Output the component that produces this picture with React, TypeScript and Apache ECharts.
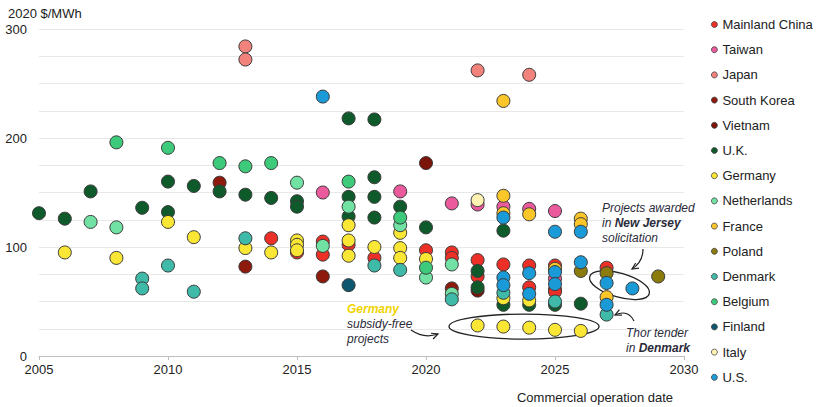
import React, { useEffect, useRef } from 'react';
import * as echarts from 'echarts';

const countryNames = [
  'Mainland China', 'Taiwan', 'Japan', 'South Korea', 'Vietnam', 'U.K.', 'Germany',
  'Netherlands', 'France', 'Poland', 'Denmark', 'Belgium', 'Finland', 'Italy', 'U.S.',
];
const countryColors = [
  '#ec3027', '#ea5a9c', '#f2837c', '#8e1a0d', '#7c1509', '#0f5a2b', '#fae634',
  '#72e2a4', '#fbc62a', '#8a7b0c', '#3fbaa8', '#3dcb7b', '#0c5670', '#fff3b3', '#1b9ad8',
];

const mainlandChina = [[2014, 108], [2015, 95], [2016, 105], [2016, 93], [2017, 102], [2018, 90], [2020, 97], [2021, 95], [2021, 90], [2022, 88], [2022, 73], [2023, 84], [2024, 83], [2024, 63], [2025, 83], [2025, 61], [2025, 59], [2027, 81]];
const taiwan = [[2016, 150], [2019, 151], [2021, 140], [2022, 139], [2023, 137], [2024, 135], [2025, 133], [2025, 71]];
const japan = [[2013, 284], [2013, 272], [2022, 262], [2024, 258]];
const southKorea = [[2012, 159], [2013, 82], [2016, 73], [2021, 62]];
const vietnam = [[2020, 177], [2022, 60]];
const uk = [[2005, 131], [2006, 126], [2007, 151], [2009, 136], [2010, 160], [2010, 132], [2011, 156], [2012, 151], [2013, 148], [2014, 145], [2015, 142], [2015, 137], [2017, 218], [2017, 146], [2017, 128], [2018, 217], [2018, 164], [2018, 146], [2018, 127], [2019, 137], [2020, 118], [2022, 78], [2022, 63], [2023, 115], [2023, 47], [2024, 47], [2025, 47], [2026, 48]];
const germany = [[2006, 95], [2008, 90], [2010, 123], [2011, 109], [2013, 99], [2014, 95], [2015, 106], [2015, 102], [2015, 97], [2017, 120], [2017, 106], [2017, 92], [2018, 100], [2019, 113], [2019, 99], [2019, 90], [2020, 89], [2022, 28], [2023, 53], [2023, 27], [2024, 51], [2024, 26], [2025, 24], [2026, 23]];
const netherlands = [[2007, 123], [2008, 118], [2015, 159], [2016, 101], [2017, 137], [2019, 120], [2020, 72], [2021, 84], [2021, 57]];
const france = [[2023, 234], [2023, 147], [2023, 131], [2024, 130], [2025, 80], [2026, 126], [2026, 121], [2027, 54]];
const poland = [[2026, 78], [2027, 76], [2029, 73]];
const denmark = [[2009, 71], [2009, 62], [2010, 83], [2011, 59], [2013, 108], [2018, 83], [2019, 79], [2021, 52], [2023, 58], [2025, 50], [2027, 38]];
const belgium = [[2008, 196], [2010, 191], [2012, 177], [2013, 174], [2014, 177], [2017, 160], [2019, 127], [2020, 81]];
const finland = [[2017, 65]];
const italy = [[2022, 143]];
const us = [[2016, 238], [2023, 127], [2023, 72], [2023, 65], [2024, 76], [2024, 57], [2025, 114], [2025, 77], [2025, 66], [2026, 114], [2026, 86], [2027, 67], [2027, 47], [2028, 62]];

const seriesData = [mainlandChina, taiwan, japan, southKorea, vietnam, uk, germany, netherlands, france, poland, denmark, belgium, finland, italy, us];

const FONT = '"Liberation Sans", Arial, sans-serif';

function arrow(tail: number[], ctrl: number[], tip: number[]) {
  const dx = tip[0] - ctrl[0];
  const dy = tip[1] - ctrl[1];
  const ang = Math.atan2(dy, dx);
  const len = 7;
  const a1 = ang + Math.PI - 0.45;
  const a2 = ang + Math.PI + 0.45;
  return [
    {
      type: 'bezierCurve',
      shape: { x1: tail[0], y1: tail[1], cpx1: ctrl[0], cpy1: ctrl[1], x2: tip[0], y2: tip[1] },
      style: { stroke: '#222', lineWidth: 1.2, fill: 'none' },
    },
    {
      type: 'polyline',
      shape: {
        points: [
          [tip[0] + len * Math.cos(a1), tip[1] + len * Math.sin(a1)],
          tip,
          [tip[0] + len * Math.cos(a2), tip[1] + len * Math.sin(a2)],
        ],
      },
      style: { stroke: '#222', lineWidth: 1.2, fill: 'none' },
    },
  ];
}

export default function App() {
  const ref = useRef<HTMLDivElement>(null);
  useEffect(() => {
    const chart = echarts.init(ref.current!, null, { renderer: 'svg' });
    chart.setOption({
      animation: false,
      textStyle: { fontFamily: FONT },
      grid: { left: 39, right: 135, top: 29, bottom: 51 },
      legend: {
        orient: 'vertical',
        left: 706,
        top: 12,
        itemWidth: 6,
        itemHeight: 6,
        itemGap: 10.2,
        icon: 'circle',
        itemStyle: { borderWidth: 0.8, borderColor: '#444' },
        textStyle: { fontSize: 13, color: '#222', fontFamily: FONT, lineHeight: 15 },
        data: countryNames,
      },
      xAxis: {
        type: 'value',
        min: 2005,
        max: 2030,
        interval: 5,
        axisLine: { show: true, lineStyle: { color: '#bdbdbd', width: 1 } },
        axisTick: { show: true, length: 4, lineStyle: { color: '#bdbdbd' } },
        axisLabel: { fontSize: 13, color: '#222', margin: 7, formatter: (v: number) => String(v) },
        splitLine: { show: false },
      },
      yAxis: {
        type: 'value',
        min: 0,
        max: 300,
        interval: 25,
        axisLine: { show: false },
        axisTick: { show: false },
        axisLabel: {
          fontSize: 13,
          color: '#222',
          margin: 12,
          formatter: (v: number) => (v % 100 === 0 ? String(v) : ''),
        },
        splitLine: { lineStyle: { color: '#e8e8e8', width: 1 } },
      },
      series: countryNames.map((name, i) => ({
        name,
        type: 'scatter',
        symbol: 'circle',
        symbolSize: 13,
        data: seriesData[i],
        itemStyle: { color: countryColors[i], borderColor: '#3a3a3a', borderWidth: 1, opacity: 1 },
        emphasis: { disabled: true },
      })),
    });

    const p = (x: number, y: number) => chart.convertToPixel({ gridIndex: 0 }, [x, y]) as number[];
    const gerC = p(2023.8, 27);
    const njC = p(2027.5, 65);
    const italic = { fontStyle: 'italic', fontSize: 12, fontFamily: FONT, fill: '#2b2b3a' };

    chart.setOption({
      graphic: [
        { type: 'text', x: 8, y: 13, style: { text: '2020 $/MWh', fontSize: 13, fontFamily: FONT, fill: '#222', verticalAlign: 'middle' } },
        { type: 'text', x: 595, y: 397, style: { text: 'Commercial operation date', fontSize: 13, fontFamily: FONT, fill: '#222', align: 'center', verticalAlign: 'middle' } },
        { type: 'ellipse', shape: { cx: gerC[0], cy: gerC[1], rx: 75, ry: 12.5 }, style: { fill: 'none', stroke: '#222', lineWidth: 1.3 } },
        { type: 'ellipse', x: njC[0], y: njC[1], rotation: -0.28, shape: { cx: 0, cy: 0, rx: 31, ry: 12 }, style: { fill: 'none', stroke: '#222', lineWidth: 1.3 } },
        ...arrow([411, 330], [424, 339], [438, 334]),
        ...arrow([643, 249], [643, 262], [632, 269]),
        ...arrow([634, 321], [628, 309], [615, 315]),
        { type: 'text', x: 347, y: 309, style: { text: 'Germany', ...italic, fill: '#f2d400', fontWeight: 'bold', verticalAlign: 'middle' } },
        { type: 'text', x: 347, y: 324, style: { text: 'subsidy-free', ...italic, verticalAlign: 'middle' } },
        { type: 'text', x: 347, y: 339, style: { text: 'projects', ...italic, verticalAlign: 'middle' } },
        { type: 'text', x: 602, y: 208, style: { text: 'Projects awarded', ...italic, verticalAlign: 'middle' } },
        {
          type: 'text', x: 602, y: 223,
          style: {
            text: '{n|in }{b|New Jersey}', ...italic, verticalAlign: 'middle',
            rich: {
              n: { fontStyle: 'italic', fontSize: 12, fontFamily: FONT, color: '#2b2b3a' },
              b: { fontStyle: 'italic', fontWeight: 'bold', fontSize: 12, fontFamily: FONT, color: '#1ba8e0' },
            },
          },
        },
        { type: 'text', x: 602, y: 238, style: { text: 'solicitation', ...italic, verticalAlign: 'middle' } },
        { type: 'text', x: 626, y: 333, style: { text: 'Thor tender', ...italic, verticalAlign: 'middle' } },
        {
          type: 'text', x: 626, y: 348,
          style: {
            text: '{n|in }{b|Denmark}', ...italic, verticalAlign: 'middle',
            rich: {
              n: { fontStyle: 'italic', fontSize: 12, fontFamily: FONT, color: '#2b2b3a' },
              b: { fontStyle: 'italic', fontWeight: 'bold', fontSize: 12, fontFamily: FONT, color: '#3fc8b0' },
            },
          },
        },
      ],
    });
    return () => chart.dispose();
  }, []);
  return <div ref={ref} style={{ position: 'absolute', left: 0, top: 0, width: 819, height: 407 }} />;
}
